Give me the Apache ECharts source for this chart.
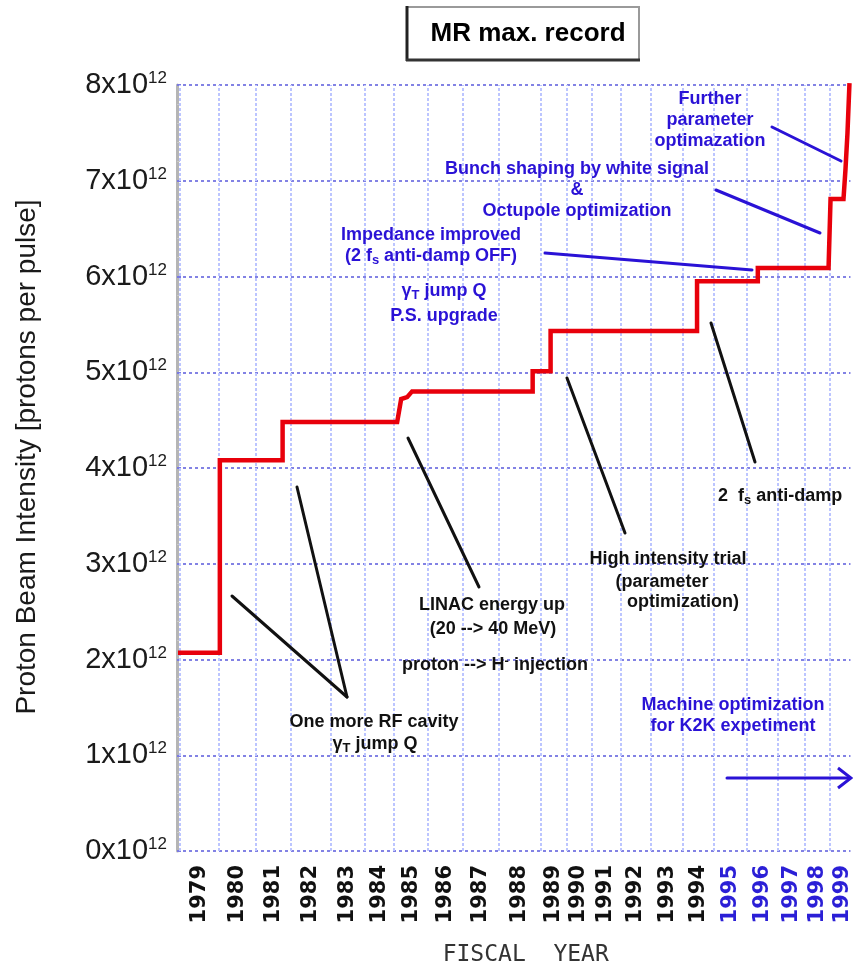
<!DOCTYPE html>
<html><head><meta charset="utf-8">
<script src="https://cdn.jsdelivr.net/npm/echarts@6/dist/echarts.min.js"></script>
<style>html,body{margin:0;padding:0;background:#fff}#c{width:853px;height:972px}</style>
</head><body><div id="c"></div>
<script>
// ---- data ----
// fiscal years and the start of each fiscal year on the running-time axis (operation-time units)
const years = [1979,1980,1981,1982,1983,1984,1985,1986,1987,1988,1989,1990,1991,1992,1993,1994,1995,1996,1997,1998,1999];
const yearStart = [3,42,79,114,154,188,218,252,287,323,365,391,416,445,476,508,539,572,603,630,655];
const lastYearEnd = 681;
// intensity tick values (x10^12 protons per pulse)
const yTicks = [0,1,2,3,4,5,6,7,8];
// MR max. record step curve: running time, intensity (x10^12)
const recordTime  = [1, 43, 43, 106, 106, 221, 225, 231, 236, 357, 357, 375, 375, 522, 522, 583, 583, 654, 656, 669, 671, 673, 675];
const recordValue = [2.07, 2.07, 4.08, 4.08, 4.48, 4.48, 4.72, 4.74, 4.80, 4.80, 5.01, 5.01, 5.43, 5.43, 5.95, 5.95, 6.09, 6.09, 6.81, 6.81, 7.12, 7.50, 8.02];

// ---- derived ----
const yearMid = yearStart.map((s, i) => (s + (i + 1 < yearStart.length ? yearStart[i + 1] : lastYearEnd)) / 2);
const record = recordTime.map((t, i) => [t, recordValue[i]]);
function yearAt(v){ let best=0, d=1e9; yearMid.forEach((m,i)=>{ if(Math.abs(m-v)<d){d=Math.abs(m-v);best=i;} }); return years[best]; }

const SANS = '"Liberation Sans", Arial, Helvetica, sans-serif';
const BLUE = '#2a12d6';
const BLACK = '#111';
const richFor = (fill) => ({
  sub: {fontSize: 13, fontWeight: 'bold', fontFamily: SANS, fill: fill, color: fill, lineHeight: 8, verticalAlign: 'bottom'},
  sup: {fontSize: 13, fontWeight: 'bold', fontFamily: SANS, fill: fill, color: fill, lineHeight: 8, verticalAlign: 'top'}
});
function note(x, y, text, fill, align){
  return {type:'text', x:x, y:y, z:100, silent:true, style:{
    text:text, fill:fill, font:'bold 18px ' + SANS,
    textAlign: align || 'center', align: align || 'center',
    textVerticalAlign:'middle', verticalAlign:'middle', lineHeight:21, rich: richFor(fill)}};
}
function seg(x1,y1,x2,y2,color){
  return {type:'line', z:99, silent:true, shape:{x1,y1,x2,y2}, style:{stroke:color, lineWidth:3, lineCap:'round'}};
}

const chart = echarts.init(document.getElementById('c'), null, {renderer:'canvas'});
chart.setOption({
  animation:false,
  backgroundColor:'#fff',
  grid:{left:177, right:0, top:85, bottom:115, containLabel:false},
  xAxis:{
    type:'value', min:0, max:676,
    axisLine:{show:false},
    axisTick:{show:false},
    splitLine:{show:false},
    axisLabel:{
      customValues: yearMid,
      rotate:90, margin:14,
      formatter: v => { const y = yearAt(v); return (y >= 1995 ? '{b|' : '{k|') + y + '}'; },
      rich:{
        k:{color:'#111', fontSize:21, fontWeight:'bold', fontFamily:'"DejaVu Sans", sans-serif'},
        b:{color:'#2b1fd6', fontSize:21, fontWeight:'bold', fontFamily:'"DejaVu Sans", sans-serif'}
      }
    },
    name:'FISCAL  YEAR', nameLocation:'middle', nameGap:93,
    nameTextStyle:{fontSize:23, fontFamily:'"DejaVu Sans Mono", "Liberation Mono", monospace', color:'#333', padding:[0,0,0,24]}
  },
  yAxis:{
    type:'value', min:yTicks[0], max:yTicks[yTicks.length-1], interval:1,
    axisLine:{show:true, lineStyle:{color:'#b5b5b5', width:3}},
    axisTick:{show:true, inside:true, length:4, lineStyle:{color:'#7a7ae0', width:2}},
    minorTick:{show:true, splitNumber:5, length:3, lineStyle:{color:'#c8c8c8', width:1}},
    splitLine:{show:true, lineStyle:{color:'#8282e4', width:2, type:[3,3]}},
    axisLabel:{
      margin:10,
      formatter: v => '{n|' + v + 'x10}{s|12}',
      rich:{
        n:{fontSize:29, fontFamily:SANS, color:'#1a1a1a', lineHeight:30, verticalAlign:'middle'},
        s:{fontSize:17, fontFamily:SANS, color:'#1a1a1a', lineHeight:17, verticalAlign:'top'}
      }
    },
    name:'Proton Beam Intensity [protons per pulse]', nameLocation:'middle', nameRotate:90, nameGap:136,
    nameTextStyle:{fontSize:28, fontFamily:SANS, color:'#1a1a1a', padding:[0,0,0,22]}
  },
  series:[
    { // fiscal-year boundaries (vertical grid)
      type:'line', data:record, symbol:'none', silent:true, z:1,
      lineStyle:{width:0, opacity:0},
      markLine:{silent:true, symbol:['none','none'], label:{show:false}, animation:false,
        lineStyle:{color:'#bcc5ff', width:2, type:[3,2]},
        data: yearStart.map(v => ({xAxis:v}))}
    },
    {
      name:'MR max. record', type:'line', data:record, symbol:'none', z:5,
      lineStyle:{color:'#e8000b', width:4.5, join:'miter'}
    }
  ],
  graphic:[
    // title box
    {type:'rect', z:100, shape:{x:407, y:7, width:232, height:53}, style:{fill:'#fff', stroke:'#9a9a9a', lineWidth:2}},
    {type:'line', z:101, shape:{x1:407, y1:6, x2:407, y2:61}, style:{stroke:'#222', lineWidth:3}},
    {type:'line', z:101, shape:{x1:406, y1:60, x2:640, y2:60}, style:{stroke:'#333', lineWidth:3}},
    {type:'text', z:102, x:528, y:34, style:{text:'MR max. record', font:'bold 26px ' + SANS, fill:'#000',
      textAlign:'center', align:'center', textVerticalAlign:'middle', verticalAlign:'middle'}},

    // blue annotations
    note(710, 120, 'Further\nparameter\noptimazation', BLUE),
    note(577, 190, 'Bunch shaping by white signal\n&\nOctupole optimization', BLUE),
    note(431, 246, 'Impedance improved\n(2 f{sub|s} anti-damp OFF)', BLUE),
    note(444, 291, 'γ{sub|T} jump Q', BLUE),
    note(444, 316, 'P.S. upgrade', BLUE),
    note(733, 716, 'Machine optimization\nfor K2K expetiment', BLUE),
    seg(545, 253, 752, 270, BLUE),
    seg(716, 190, 820, 233, BLUE),
    seg(772, 127, 841, 161, BLUE),
    seg(727, 778, 850, 778, BLUE),
    {type:'polyline', z:99, shape:{points:[[838,768],[851,778],[838,788]]}, style:{stroke:BLUE, lineWidth:3, fill:null}},

    // black annotations
    note(374, 722, 'One more RF cavity', BLACK),
    note(375, 744, 'γ{sub|T} jump Q', BLACK),
    note(492, 605, 'LINAC energy up', BLACK),
    note(493, 629, '(20 --> 40 MeV)', BLACK),
    note(495, 665, 'proton --> H{sup|-} injection', BLACK),
    note(668, 559, 'High intensity trial', BLACK),
    note(662, 582, '(parameter', BLACK),
    note(683, 602, 'optimization)', BLACK),
    note(718, 496, '2  f{sub|s} anti-damp', BLACK, 'left'),
    seg(232, 596, 347, 697, BLACK),
    seg(297, 487, 347, 697, BLACK),
    seg(408, 438, 479, 587, BLACK),
    seg(567, 378, 625, 533, BLACK),
    seg(711, 323, 755, 462, BLACK)
  ]
});
</script>
</body></html>
